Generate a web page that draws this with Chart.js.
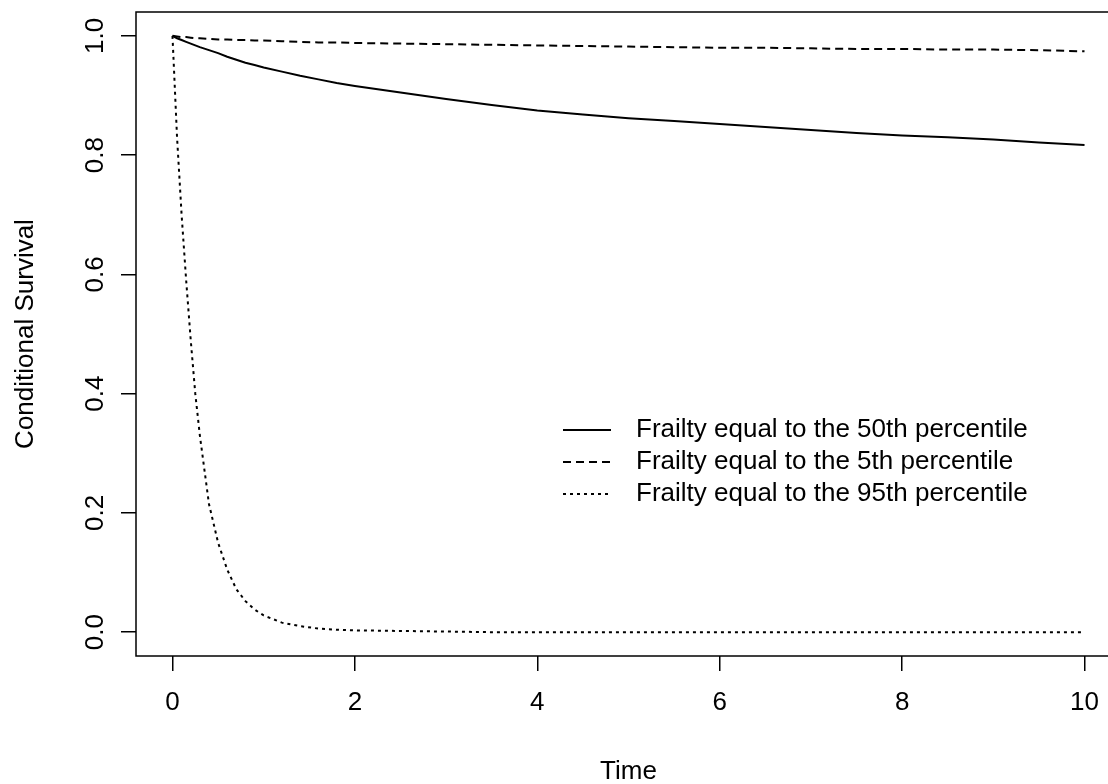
<!DOCTYPE html>
<html>
<head>
<meta charset="utf-8">
<script src="https://cdn.jsdelivr.net/npm/chart.js@4.4.1/dist/chart.umd.min.js"></script>
<style>
    html, body { margin: 0; padding: 0; background: #fff; overflow: hidden; }
    #wrap { width: 1121px; height: 784px; }
</style>
</head>
<body>
<div id="wrap"><canvas id="chart" width="1121" height="784"></canvas></div>
<script>
// ===========================
// DATOS
// ===========================
const times = [0, 0.05, 0.1, 0.15, 0.2, 0.25, 0.3, 0.4, 0.5, 0.6, 0.7, 0.8, 0.9, 1.0,
    1.2, 1.4, 1.6, 1.8, 2.0, 2.5, 3.0, 3.5, 4.0, 4.5, 5.0, 5.5, 6.0, 6.5, 7.0, 7.5,
    8.0, 8.5, 9.0, 9.5, 10.0];

const surv50 = [1.0, 0.996, 0.993, 0.990, 0.987, 0.984, 0.981, 0.976, 0.971, 0.965,
    0.960, 0.955, 0.951, 0.947, 0.940, 0.933, 0.927, 0.921, 0.916, 0.905, 0.894,
    0.884, 0.875, 0.868, 0.862, 0.857, 0.852, 0.847, 0.842, 0.837, 0.833, 0.830,
    0.826, 0.821, 0.817];

const surv5 = [1.0, 0.999, 0.998, 0.998, 0.997, 0.996, 0.996, 0.995, 0.994, 0.994,
    0.993, 0.993, 0.992, 0.992, 0.991, 0.990, 0.989, 0.989, 0.988, 0.987, 0.986,
    0.985, 0.984, 0.983, 0.982, 0.981, 0.980, 0.980, 0.979, 0.978, 0.978, 0.977,
    0.977, 0.976, 0.974];

const surv95 = [1.0, 0.83, 0.70, 0.59, 0.49, 0.40, 0.33, 0.215, 0.150, 0.105,
    0.072, 0.052, 0.038, 0.028, 0.016, 0.010, 0.006, 0.004, 0.003, 0.002, 0.001,
    0, 0, 0, 0, 0, 0, 0, 0, 0, 0, 0, 0, 0, 0];

const seriesLabels = [
    'Frailty equal to the 50th percentile',
    'Frailty equal to the 5th percentile',
    'Frailty equal to the 95th percentile'
];

const xTicks = [0, 2, 4, 6, 8, 10];
const yTicks = [0, 0.2, 0.4, 0.6, 0.8, 1.0];

// ===========================
// ESTILO
// ===========================
const FONT = "'Liberation Sans', Arial, sans-serif";
Chart.defaults.font.family = FONT;
Chart.defaults.font.size = 26;
Chart.defaults.color = '#000';

const toPoints = (ys) => times.map((t, i) => ({ x: t, y: ys[i] }));

// sin padding extra por las etiquetas, el área queda fija
const noLabelPadding = (s) => {
    s.paddingTop = 0;
    s.paddingBottom = 0;
    s.paddingLeft = 0;
    s.paddingRight = 0;
};

// Caja alrededor del área del gráfico
const boxPlugin = {
    id: 'box',
    afterDraw(chart) {
        const { ctx, chartArea: a } = chart;
        ctx.save();
        ctx.strokeStyle = '#000';
        ctx.lineWidth = 1.5;
        ctx.strokeRect(a.left, a.top, a.right - a.left, a.bottom - a.top);
        ctx.restore();
    }
};

// Leyenda dentro del gráfico (estilo R)
const insetLegend = {
    id: 'insetLegend',
    afterDatasetsDraw(chart) {
        const ctx = chart.ctx;
        ctx.save();
        chart.data.datasets.forEach((ds, i) => {
            const y = 430 + i * 32;
            ctx.strokeStyle = ds.borderColor;
            ctx.lineWidth = ds.borderWidth;
            ctx.setLineDash(ds.borderDash || []);
            ctx.beginPath();
            ctx.moveTo(563, y);
            ctx.lineTo(611, y);
            ctx.stroke();
            ctx.setLineDash([]);
            ctx.fillStyle = '#000';
            ctx.font = '26px ' + FONT;
            ctx.textBaseline = 'middle';
            ctx.textAlign = 'left';
            ctx.fillText(ds.label, 636, y);
        });
        ctx.restore();
    }
};

const ctx = document.getElementById('chart');

new Chart(ctx, {
    type: 'line',
    data: {
        datasets: [{
            label: seriesLabels[0],
            data: toPoints(surv50),
            borderColor: '#000',
            borderWidth: 2,
            borderDash: []
        }, {
            label: seriesLabels[1],
            data: toPoints(surv5),
            borderColor: '#000',
            borderWidth: 2,
            borderDash: [8, 5]
        }, {
            label: seriesLabels[2],
            data: toPoints(surv95),
            borderColor: '#000',
            borderWidth: 2,
            borderDash: [3, 4]
        }]
    },
    options: {
        responsive: false,
        animation: false,
        layout: {
            padding: { top: 12, right: 0, bottom: 0, left: 0 }
        },
        elements: {
            point: { radius: 0 },
            line: { tension: 0, fill: false }
        },
        plugins: {
            legend: { display: false },
            tooltip: { enabled: false }
        },
        scales: {
            x: {
                type: 'linear',
                min: -0.4,
                max: 10.4,
                afterBuildTicks: (s) => { s.ticks = xTicks.map(v => ({ value: v })); },
                afterFit: (s) => { s.height = 128; noLabelPadding(s); },
                border: { display: false },
                grid: {
                    drawOnChartArea: false,
                    drawTicks: true,
                    tickLength: 15,
                    color: '#000',
                    lineWidth: 1.5
                },
                ticks: {
                    padding: 16,
                    maxRotation: 0,
                    autoSkip: false,
                    callback: (v) => String(v)
                },
                title: {
                    display: true,
                    text: 'Time',
                    padding: { top: 0, bottom: -3 }
                }
            },
            y: {
                min: -0.04,
                max: 1.04,
                afterBuildTicks: (s) => { s.ticks = yTicks.map(v => ({ value: v })); },
                afterFit: (s) => { s.width = 136; noLabelPadding(s); },
                border: { display: false },
                grid: {
                    drawOnChartArea: false,
                    drawTicks: true,
                    tickLength: 15,
                    color: '#000',
                    lineWidth: 1.5
                },
                ticks: {
                    padding: 7,
                    minRotation: 90,
                    maxRotation: 90,
                    crossAlign: 'center',
                    autoSkip: false,
                    callback: (v) => Number(v).toFixed(1)
                },
                title: {
                    display: true,
                    text: 'Conditional Survival',
                    padding: { top: 10, bottom: 0 }
                }
            }
        }
    },
    plugins: [boxPlugin, insetLegend]
});
</script>
</body>
</html>
